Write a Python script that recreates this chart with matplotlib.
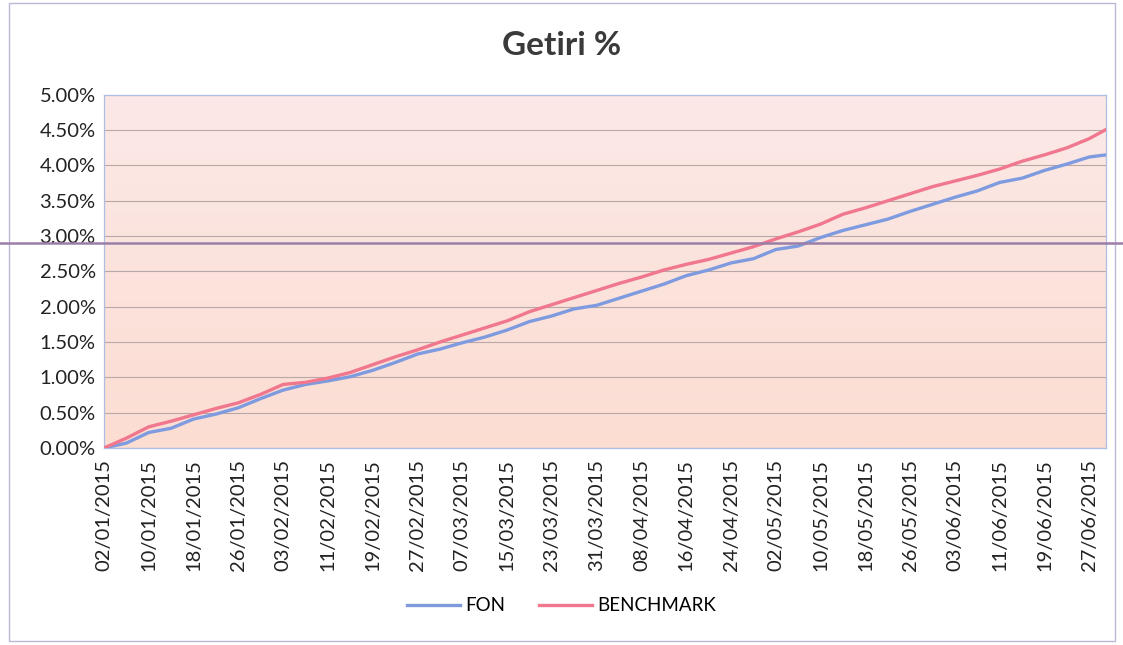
import numpy as np
import pandas as pd
import matplotlib
matplotlib.use("Agg")
from matplotlib import pyplot as plt
import matplotlib.dates as mdates
from matplotlib.ticker import PercentFormatter, MultipleLocator
from matplotlib.lines import Line2D
from matplotlib.patches import Rectangle

plt.rcParams['font.family'] = ['Lato', 'DejaVu Sans']

# values (in %)
dates = ["02/01/2015", "06/01/2015", "10/01/2015", "14/01/2015", "18/01/2015",
         "22/01/2015", "26/01/2015", "30/01/2015", "03/02/2015", "07/02/2015",
         "11/02/2015", "15/02/2015", "19/02/2015", "23/02/2015", "27/02/2015",
         "03/03/2015", "07/03/2015", "11/03/2015", "15/03/2015", "19/03/2015",
         "23/03/2015", "27/03/2015", "31/03/2015", "04/04/2015", "08/04/2015",
         "12/04/2015", "16/04/2015", "20/04/2015", "24/04/2015", "28/04/2015",
         "02/05/2015", "06/05/2015", "10/05/2015", "14/05/2015", "18/05/2015",
         "22/05/2015", "26/05/2015", "30/05/2015", "03/06/2015", "07/06/2015",
         "11/06/2015", "15/06/2015", "19/06/2015", "23/06/2015", "27/06/2015",
         "30/06/2015"]
fon = [0.00, 0.07, 0.22, 0.28, 0.41, 0.48, 0.57, 0.70, 0.82, 0.90,
       0.95, 1.01, 1.10, 1.21, 1.33, 1.40, 1.49, 1.57, 1.67, 1.79,
       1.87, 1.97, 2.02, 2.12, 2.22, 2.32, 2.44, 2.52, 2.62, 2.68,
       2.81, 2.86, 2.98, 3.08, 3.16, 3.24, 3.35, 3.45, 3.55, 3.64,
       3.76, 3.82, 3.93, 4.02, 4.12, 4.15]
benchmark = [0.00, 0.14, 0.30, 0.38, 0.47, 0.56, 0.64, 0.76, 0.90, 0.93,
             0.99, 1.07, 1.18, 1.29, 1.39, 1.50, 1.60, 1.70, 1.80, 1.93,
             2.03, 2.13, 2.23, 2.33, 2.42, 2.52, 2.60, 2.67, 2.76, 2.85,
             2.96, 3.06, 3.17, 3.31, 3.40, 3.50, 3.60, 3.70, 3.78, 3.86,
             3.95, 4.06, 4.15, 4.25, 4.38, 4.51]

x = pd.to_datetime(dates, format="%d/%m/%Y")

fig = plt.figure(figsize=(11.23, 6.45), dpi=100)
ax = fig.add_axes([0.0926, 0.3054, 0.8924, 0.5476])

# pinkish gradient plot background
grad = np.linspace(0, 1, 256).reshape(-1, 1)
top_c = np.array([252, 233, 231]) / 255
bot_c = np.array([251, 221, 210]) / 255
img = bot_c + (top_c - bot_c) * grad[:, :, None]
ax.imshow(img, extent=[0, 1, 0, 1], transform=ax.transAxes, aspect='auto',
          origin='lower', zorder=0)

ax.plot(x, fon, color='#7f9be0', lw=2.4, label='FON', zorder=3)
ax.plot(x, benchmark, color='#f0778e', lw=2.4, label='BENCHMARK', zorder=3)

ax.set_xlim(x[0], x[-1])
ax.set_ylim(0, 5)
ax.yaxis.set_major_locator(MultipleLocator(0.5))
ax.yaxis.set_major_formatter(PercentFormatter(xmax=100, decimals=2))
ticks = pd.date_range(x[0], x[-1], freq='8D')
ax.set_xticks(ticks)
ax.xaxis.set_major_formatter(mdates.DateFormatter('%d/%m/%Y'))
ax.grid(axis='y', color='#b8a8a8', lw=0.8, zorder=1)
ax.tick_params(axis='both', length=0, labelsize=14.5, colors='#222222', pad=6)
ax.tick_params(axis='x', rotation=90, pad=8)
for s in ax.spines.values():
    s.set_color('#aebde3')
    s.set_linewidth(0.9)

fig.text(0.5, 0.93, 'Getiri %', ha='center', va='center', fontsize=24,
         fontweight='bold', color='#3a3a3a')

ax.legend(loc='center', bbox_to_anchor=(0.5, 0.061), bbox_transform=fig.transFigure,
          ncol=2, frameon=False, fontsize=13.5, handlelength=2.8, columnspacing=1.8,
          handletextpad=0.3)

# outer chart frame and scan line
fig.patches.append(Rectangle((0.008, 0.006), 0.985, 0.99, transform=fig.transFigure,
                             fill=False, edgecolor='#b8b8d8', lw=1.0))
fig.lines.append(Line2D([0, 1], [1 - 243 / 645] * 2, transform=fig.transFigure,
                        color='#9a7ea8', lw=1.8, zorder=10))

fig.savefig('out.png', dpi=100)
